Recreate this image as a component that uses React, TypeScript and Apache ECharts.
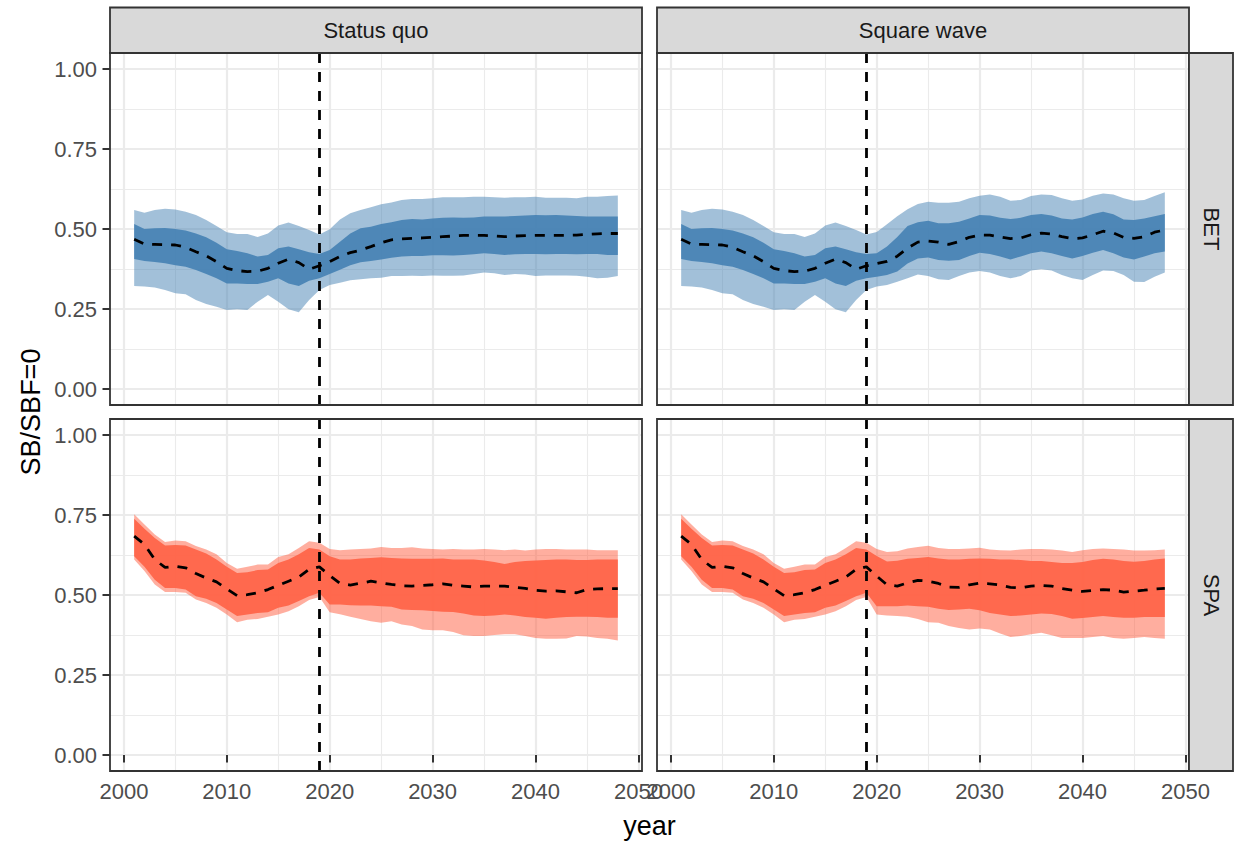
import React, { useEffect, useRef } from "react";
import * as echarts from "echarts";

// ---------- categories / ticks ----------
const years = [
  2001, 2002, 2003, 2004, 2005, 2006, 2007, 2008, 2009, 2010, 2011, 2012,
  2013, 2014, 2015, 2016, 2017, 2018, 2019, 2020, 2021, 2022, 2023, 2024,
  2025, 2026, 2027, 2028, 2029, 2030, 2031, 2032, 2033, 2034, 2035, 2036,
  2037, 2038, 2039, 2040, 2041, 2042, 2043, 2044, 2045, 2046, 2047, 2048,
];
const xTicks = [2000, 2010, 2020, 2030, 2040, 2050];
const xMinorTicks = [2005, 2015, 2025, 2035, 2045];
const yTicks = [0, 0.25, 0.5, 0.75, 1];
const yMinorTicks = [0.125, 0.375, 0.625, 0.875];
const columnLabels = ["Status quo", "Square wave"];
const rowLabels = ["BET", "SPA"];
const refYear = 2019;

// ---------- BET, historical 2001-2019 (shared by both scenarios) ----------
const betHistLo95 = [0.322, 0.320, 0.317, 0.309, 0.299, 0.296, 0.278, 0.266, 0.257, 0.247, 0.249, 0.247, 0.273, 0.294, 0.273, 0.249, 0.240, 0.278, 0.309];
const betHistLo50 = [0.406, 0.400, 0.397, 0.393, 0.387, 0.382, 0.372, 0.359, 0.346, 0.330, 0.330, 0.328, 0.328, 0.335, 0.346, 0.330, 0.322, 0.338, 0.346];
const betHistMed = [0.468, 0.453, 0.452, 0.451, 0.450, 0.443, 0.429, 0.416, 0.398, 0.377, 0.370, 0.367, 0.368, 0.377, 0.393, 0.406, 0.395, 0.374, 0.385];
const betHistHi50 = [0.516, 0.500, 0.502, 0.503, 0.500, 0.495, 0.486, 0.474, 0.457, 0.437, 0.431, 0.424, 0.414, 0.419, 0.440, 0.445, 0.437, 0.427, 0.422];
const betHistHi95 = [0.559, 0.551, 0.559, 0.563, 0.561, 0.554, 0.544, 0.528, 0.509, 0.490, 0.484, 0.484, 0.475, 0.486, 0.511, 0.520, 0.509, 0.497, 0.483];

// ---------- BET, Status quo projection 2020-2048 ----------
const betSqLo95 = [0.325, 0.332, 0.340, 0.343, 0.346, 0.348, 0.353, 0.353, 0.354, 0.353, 0.355, 0.354, 0.354, 0.355, 0.359, 0.364, 0.362, 0.356, 0.359, 0.358, 0.353, 0.355, 0.355, 0.355, 0.354, 0.351, 0.346, 0.348, 0.353];
const betSqLo50 = [0.359, 0.373, 0.387, 0.396, 0.400, 0.405, 0.410, 0.414, 0.416, 0.416, 0.418, 0.418, 0.417, 0.419, 0.421, 0.424, 0.422, 0.419, 0.421, 0.422, 0.422, 0.421, 0.422, 0.422, 0.421, 0.422, 0.422, 0.419, 0.419];
const betSqMed = [0.398, 0.414, 0.426, 0.434, 0.445, 0.457, 0.466, 0.469, 0.471, 0.472, 0.474, 0.476, 0.478, 0.480, 0.480, 0.480, 0.478, 0.476, 0.478, 0.479, 0.480, 0.480, 0.480, 0.480, 0.481, 0.483, 0.485, 0.486, 0.486];
const betSqHi50 = [0.434, 0.460, 0.486, 0.502, 0.507, 0.516, 0.521, 0.528, 0.531, 0.530, 0.533, 0.535, 0.536, 0.535, 0.536, 0.539, 0.539, 0.539, 0.541, 0.542, 0.544, 0.543, 0.544, 0.542, 0.541, 0.539, 0.539, 0.539, 0.539];
const betSqHi95 = [0.499, 0.530, 0.549, 0.559, 0.568, 0.577, 0.583, 0.591, 0.594, 0.594, 0.596, 0.599, 0.599, 0.599, 0.601, 0.601, 0.599, 0.598, 0.599, 0.599, 0.601, 0.598, 0.598, 0.598, 0.596, 0.601, 0.601, 0.603, 0.605];

// ---------- BET, Square wave projection 2020-2048 ----------
const betSwLo95 = [0.320, 0.325, 0.335, 0.346, 0.358, 0.353, 0.343, 0.341, 0.353, 0.364, 0.369, 0.364, 0.353, 0.346, 0.353, 0.370, 0.374, 0.370, 0.356, 0.346, 0.341, 0.356, 0.370, 0.369, 0.356, 0.335, 0.334, 0.351, 0.364];
const betSwLo50 = [0.351, 0.356, 0.367, 0.392, 0.408, 0.411, 0.403, 0.401, 0.403, 0.416, 0.426, 0.422, 0.414, 0.405, 0.414, 0.424, 0.430, 0.424, 0.416, 0.408, 0.416, 0.426, 0.434, 0.424, 0.411, 0.405, 0.414, 0.424, 0.430];
const betSwMed = [0.392, 0.399, 0.415, 0.440, 0.459, 0.462, 0.459, 0.452, 0.461, 0.474, 0.481, 0.481, 0.475, 0.470, 0.472, 0.482, 0.487, 0.484, 0.476, 0.470, 0.472, 0.482, 0.493, 0.488, 0.474, 0.471, 0.476, 0.490, 0.497];
const betSwHi50 = [0.424, 0.445, 0.475, 0.509, 0.521, 0.526, 0.518, 0.518, 0.523, 0.533, 0.544, 0.542, 0.535, 0.531, 0.535, 0.544, 0.547, 0.542, 0.533, 0.530, 0.536, 0.547, 0.554, 0.546, 0.530, 0.528, 0.533, 0.540, 0.547];
const betSwHi95 = [0.491, 0.515, 0.540, 0.562, 0.578, 0.585, 0.582, 0.582, 0.585, 0.596, 0.604, 0.608, 0.601, 0.588, 0.591, 0.603, 0.608, 0.606, 0.596, 0.588, 0.592, 0.604, 0.611, 0.608, 0.596, 0.588, 0.591, 0.603, 0.615];

// ---------- SPA, historical 2001-2019 ----------
const spaHistLo95 = [0.611, 0.575, 0.533, 0.509, 0.509, 0.507, 0.486, 0.475, 0.460, 0.439, 0.415, 0.423, 0.425, 0.432, 0.439, 0.449, 0.465, 0.484, 0.494];
const spaHistLo50 = [0.621, 0.588, 0.548, 0.522, 0.522, 0.517, 0.496, 0.488, 0.475, 0.455, 0.434, 0.439, 0.444, 0.446, 0.460, 0.467, 0.481, 0.496, 0.507];
const spaHistMed = [0.684, 0.658, 0.611, 0.586, 0.590, 0.585, 0.567, 0.553, 0.541, 0.519, 0.498, 0.501, 0.507, 0.517, 0.530, 0.543, 0.556, 0.580, 0.588];
const spaHistHi50 = [0.738, 0.707, 0.678, 0.655, 0.656, 0.655, 0.642, 0.630, 0.611, 0.588, 0.569, 0.571, 0.578, 0.580, 0.600, 0.611, 0.627, 0.647, 0.642];
const spaHistHi95 = [0.752, 0.720, 0.689, 0.666, 0.670, 0.668, 0.653, 0.642, 0.627, 0.600, 0.582, 0.588, 0.595, 0.595, 0.619, 0.627, 0.647, 0.668, 0.663];

// ---------- SPA, Status quo projection 2020-2048 ----------
const spaSqLo95 = [0.446, 0.440, 0.432, 0.425, 0.418, 0.413, 0.418, 0.408, 0.403, 0.392, 0.390, 0.390, 0.384, 0.374, 0.372, 0.372, 0.375, 0.377, 0.377, 0.372, 0.366, 0.363, 0.363, 0.364, 0.372, 0.370, 0.366, 0.363, 0.358];
const spaSqLo50 = [0.470, 0.470, 0.468, 0.467, 0.467, 0.465, 0.463, 0.455, 0.453, 0.452, 0.450, 0.448, 0.447, 0.442, 0.436, 0.434, 0.436, 0.439, 0.436, 0.431, 0.429, 0.426, 0.429, 0.431, 0.432, 0.432, 0.431, 0.429, 0.429];
const spaSqMed = [0.561, 0.536, 0.531, 0.537, 0.543, 0.538, 0.533, 0.529, 0.528, 0.530, 0.532, 0.535, 0.530, 0.528, 0.525, 0.528, 0.528, 0.528, 0.524, 0.521, 0.515, 0.512, 0.513, 0.510, 0.507, 0.517, 0.519, 0.520, 0.520];
const spaSqHi50 = [0.621, 0.611, 0.611, 0.614, 0.616, 0.618, 0.616, 0.614, 0.613, 0.613, 0.613, 0.614, 0.611, 0.611, 0.611, 0.608, 0.603, 0.597, 0.603, 0.606, 0.608, 0.609, 0.611, 0.611, 0.609, 0.609, 0.611, 0.611, 0.611];
const spaSqHi95 = [0.644, 0.640, 0.642, 0.644, 0.645, 0.650, 0.647, 0.647, 0.649, 0.645, 0.644, 0.642, 0.644, 0.642, 0.642, 0.644, 0.642, 0.640, 0.642, 0.639, 0.642, 0.644, 0.644, 0.642, 0.642, 0.642, 0.640, 0.640, 0.640];

// ---------- SPA, Square wave projection 2020-2048 ----------
const spaSwLo95 = [0.439, 0.436, 0.434, 0.432, 0.425, 0.415, 0.413, 0.403, 0.397, 0.392, 0.395, 0.392, 0.380, 0.369, 0.372, 0.377, 0.382, 0.374, 0.366, 0.366, 0.366, 0.369, 0.372, 0.366, 0.363, 0.366, 0.369, 0.366, 0.363];
const spaSwLo50 = [0.465, 0.465, 0.465, 0.467, 0.465, 0.463, 0.457, 0.453, 0.455, 0.457, 0.452, 0.444, 0.439, 0.434, 0.436, 0.439, 0.442, 0.441, 0.434, 0.426, 0.428, 0.431, 0.434, 0.431, 0.429, 0.429, 0.431, 0.431, 0.431];
const spaSwMed = [0.559, 0.532, 0.528, 0.538, 0.546, 0.543, 0.536, 0.525, 0.524, 0.532, 0.537, 0.535, 0.531, 0.524, 0.522, 0.528, 0.530, 0.528, 0.520, 0.515, 0.511, 0.514, 0.517, 0.515, 0.509, 0.512, 0.515, 0.519, 0.521];
const spaSwHi50 = [0.622, 0.605, 0.607, 0.613, 0.616, 0.619, 0.614, 0.611, 0.611, 0.613, 0.614, 0.613, 0.611, 0.611, 0.609, 0.606, 0.606, 0.603, 0.600, 0.600, 0.603, 0.609, 0.613, 0.611, 0.606, 0.604, 0.606, 0.611, 0.614];
const spaSwHi95 = [0.644, 0.634, 0.637, 0.645, 0.650, 0.654, 0.647, 0.644, 0.644, 0.645, 0.648, 0.642, 0.640, 0.639, 0.642, 0.644, 0.644, 0.642, 0.639, 0.634, 0.640, 0.644, 0.645, 0.644, 0.642, 0.639, 0.639, 0.640, 0.642];

// ---------- colours ----------
const bluePalette = { outer: "rgba(70,130,180,0.5)", inner: "rgba(70,130,180,0.92)" };
const redPalette = { outer: "rgba(255,99,71,0.52)", inner: "rgba(255,99,71,0.92)" };

// ---------- layout ----------
const GRID_LEFT = [110, 657];
const GRID_TOP = [53, 419];
const GRID_W = 532;
const GRID_H = 352;
const STRIP = 45.5;
const FONT = "'Liberation Sans', Arial, Helvetica, sans-serif";
const DASH = [10, 9];
const DASH_W = 2.8;

type Panel = {
  row: number;
  col: number;
  lo95: number[];
  lo50: number[];
  med: number[];
  hi50: number[];
  hi95: number[];
  pal: { outer: string; inner: string };
};

const panels: Panel[] = [
  { row: 0, col: 0, lo95: [...betHistLo95, ...betSqLo95], lo50: [...betHistLo50, ...betSqLo50], med: [...betHistMed, ...betSqMed], hi50: [...betHistHi50, ...betSqHi50], hi95: [...betHistHi95, ...betSqHi95], pal: bluePalette },
  { row: 0, col: 1, lo95: [...betHistLo95, ...betSwLo95], lo50: [...betHistLo50, ...betSwLo50], med: [...betHistMed, ...betSwMed], hi50: [...betHistHi50, ...betSwHi50], hi95: [...betHistHi95, ...betSwHi95], pal: bluePalette },
  { row: 1, col: 0, lo95: [...spaHistLo95, ...spaSqLo95], lo50: [...spaHistLo50, ...spaSqLo50], med: [...spaHistMed, ...spaSqMed], hi50: [...spaHistHi50, ...spaSqHi50], hi95: [...spaHistHi95, ...spaSqHi95], pal: redPalette },
  { row: 1, col: 1, lo95: [...spaHistLo95, ...spaSwLo95], lo50: [...spaHistLo50, ...spaSwLo50], med: [...spaHistMed, ...spaSwMed], hi50: [...spaHistHi50, ...spaSwHi50], hi95: [...spaHistHi95, ...spaSwHi95], pal: redPalette },
];

function bandSeries(axisIdx: number, lo: number[], hi: number[], color: string, z: number) {
  return {
    type: "custom",
    coordinateSystem: "cartesian2d",
    xAxisIndex: axisIdx,
    yAxisIndex: axisIdx,
    silent: true,
    z,
    data: years.map((y, i) => [y, lo[i], hi[i]]),
    encode: { x: 0, y: [1, 2] },
    renderItem: (params: any, api: any) => {
      if (params.dataIndex !== 0) return null;
      const pts: number[][] = [];
      for (let i = 0; i < years.length; i++) pts.push(api.coord([years[i], hi[i]]));
      for (let i = years.length - 1; i >= 0; i--) pts.push(api.coord([years[i], lo[i]]));
      return { type: "polygon", shape: { points: pts }, style: { fill: color, stroke: null } };
    },
  };
}

export default function App() {
  const ref = useRef<HTMLDivElement>(null);

  useEffect(() => {
    if (!ref.current) return;
    const chart = echarts.init(ref.current, null, { renderer: "svg" });

    const grids: any[] = [];
    const xAxes: any[] = [];
    const yAxes: any[] = [];
    const series: any[] = [];
    const graphics: any[] = [];

    panels.forEach((p, gi) => {
      const bottom = p.row === 1;
      const left = p.col === 0;
      grids.push({
        left: GRID_LEFT[p.col],
        top: GRID_TOP[p.row],
        width: GRID_W,
        height: GRID_H,
        containLabel: false,
        outerBoundsMode: "none",
        show: false,
      });
      xAxes.push({
        type: "value",
        gridIndex: gi,
        min: 1998.65,
        max: 2050.35,
        position: "bottom",
        axisLine: { show: false },
        axisTick: { show: bottom, customValues: xTicks, length: 7.5, lineStyle: { color: "#333333", width: 2 } },
        axisLabel: {
          show: bottom,
          customValues: xTicks,
          color: "#4D4D4D",
          fontSize: 22,
          fontFamily: FONT,
          margin: 9,
          formatter: (v: number) => String(v),
        },
        splitLine: { show: true, lineStyle: { color: "#EBEBEB", width: 2.2 } },
      });
      xAxes.push({
        type: "value",
        gridIndex: gi,
        min: 1998.65,
        max: 2050.35,
        position: "top",
        axisLine: { show: false },
        axisTick: { show: false, customValues: xMinorTicks },
        axisLabel: { show: false, customValues: xMinorTicks },
        splitLine: { show: true, lineStyle: { color: "#EBEBEB", width: 1.1 } },
      });
      yAxes.push({
        type: "value",
        gridIndex: gi,
        min: -0.05,
        max: 1.05,
        position: "left",
        axisLine: { show: false },
        axisTick: { show: left, customValues: yTicks, length: 7.5, lineStyle: { color: "#333333", width: 2 } },
        axisLabel: {
          show: left,
          customValues: yTicks,
          color: "#4D4D4D",
          fontSize: 22,
          fontFamily: FONT,
          margin: 13,
          formatter: (v: number) => v.toFixed(2),
        },
        splitLine: { show: true, lineStyle: { color: "#EBEBEB", width: 2.2 } },
      });
      yAxes.push({
        type: "value",
        gridIndex: gi,
        min: -0.05,
        max: 1.05,
        position: "right",
        axisLine: { show: false },
        axisTick: { show: false, customValues: yMinorTicks },
        axisLabel: { show: false, customValues: yMinorTicks },
        splitLine: { show: true, lineStyle: { color: "#EBEBEB", width: 1.1 } },
      });

      const ai = gi * 2;
      series.push(bandSeries(ai, p.lo95, p.hi95, p.pal.outer, 2));
      series.push(bandSeries(ai, p.lo50, p.hi50, p.pal.inner, 3));
      series.push({
        type: "line",
        xAxisIndex: ai,
        yAxisIndex: ai,
        data: years.map((y, i) => [y, p.med[i]]),
        showSymbol: false,
        symbol: "none",
        silent: true,
        z: 4,
        lineStyle: { color: "#000000", width: DASH_W, type: DASH },
        markLine: {
          silent: true,
          symbol: "none",
          label: { show: false },
          lineStyle: { color: "#000000", width: DASH_W, type: DASH },
          data: [{ xAxis: refYear }],
        },
      });

      graphics.push({
        type: "rect",
        z: 100,
        silent: true,
        shape: { x: GRID_LEFT[p.col], y: GRID_TOP[p.row], width: GRID_W, height: GRID_H },
        style: { fill: "transparent", stroke: "#333333", lineWidth: 1.8 },
      });
    });

    columnLabels.forEach((lab, c) => {
      graphics.push({
        type: "rect",
        z: 100,
        silent: true,
        shape: { x: GRID_LEFT[c], y: GRID_TOP[0] - STRIP, width: GRID_W, height: STRIP },
        style: { fill: "#D9D9D9", stroke: "#333333", lineWidth: 1.8 },
      });
      graphics.push({
        type: "text",
        z: 101,
        silent: true,
        x: GRID_LEFT[c] + GRID_W / 2,
        y: GRID_TOP[0] - STRIP / 2,
        style: {
          text: lab,
          fill: "#1A1A1A",
          font: `22px ${FONT}`,
          align: "center",
          verticalAlign: "middle",
          textAlign: "center",
          textVerticalAlign: "middle",
        },
      });
    });

    rowLabels.forEach((lab, r) => {
      const sx = GRID_LEFT[1] + GRID_W;
      graphics.push({
        type: "rect",
        z: 100,
        silent: true,
        shape: { x: sx, y: GRID_TOP[r], width: STRIP - 1.5, height: GRID_H },
        style: { fill: "#D9D9D9", stroke: "#333333", lineWidth: 1.8 },
      });
      graphics.push({
        type: "text",
        z: 101,
        silent: true,
        x: sx + (STRIP - 1.5) / 2,
        y: GRID_TOP[r] + GRID_H / 2,
        rotation: -Math.PI / 2,
        style: {
          text: lab,
          fill: "#1A1A1A",
          font: `22px ${FONT}`,
          align: "center",
          verticalAlign: "middle",
          textAlign: "center",
          textVerticalAlign: "middle",
        },
      });
    });

    graphics.push({
      type: "text",
      z: 101,
      silent: true,
      x: (GRID_LEFT[0] + GRID_LEFT[1] + GRID_W) / 2,
      y: 826,
      style: {
        text: "year",
        fill: "#000000",
        font: `27px ${FONT}`,
        align: "center",
        verticalAlign: "middle",
        textAlign: "center",
        textVerticalAlign: "middle",
      },
    });
    graphics.push({
      type: "text",
      z: 101,
      silent: true,
      x: 31,
      y: (GRID_TOP[0] + GRID_TOP[1] + GRID_H) / 2,
      rotation: Math.PI / 2,
      style: {
        text: "SB/SBF=0",
        fill: "#000000",
        font: `27px ${FONT}`,
        align: "center",
        verticalAlign: "middle",
        textAlign: "center",
        textVerticalAlign: "middle",
      },
    });

    chart.setOption({
      animation: false,
      backgroundColor: "#FFFFFF",
      grid: grids,
      xAxis: xAxes,
      yAxis: yAxes,
      series,
      graphic: graphics,
    });

    return () => chart.dispose();
  }, []);

  return (
    <div
      ref={ref}
      style={{ position: "absolute", left: 0, top: 0, width: 1238, height: 842 }}
    />
  );
}
